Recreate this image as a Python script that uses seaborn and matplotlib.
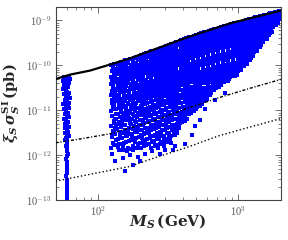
import math
import matplotlib
matplotlib.use("Agg")
import pandas as pd
import seaborn as sns
import matplotlib.pyplot as plt
from matplotlib.ticker import LogLocator, NullFormatter, FuncFormatter, FixedLocator

# upper limit (solid), projected limits (dash-dot, dotted); mass in GeV, sigma in pb
lux_mass = [50, 64, 88, 122, 169, 430, 867, 2000]
lux_sigma = [5.0e-11, 6.3e-11, 7.7e-11, 1.05e-10, 1.44e-10, 4.2e-10, 8.6e-10, 1.66e-9]
x1t_mass = [50, 75, 122, 235, 430, 736, 1262, 2000]
x1t_sigma = [1.91e-12, 2.33e-12, 3.03e-12, 5.5e-12, 1.11e-11, 1.95e-11, 3.24e-11, 4.9e-11]
lz_mass = [50, 169, 247, 430, 736, 2000]
lz_sigma = [2.68e-13, 5.7e-13, 8.6e-13, 1.51e-12, 2.78e-12, 6.6e-12]

x_ticks = [100, 1000]
y_ticks = [1e-13, 1e-12, 1e-11, 1e-10, 1e-9]

# scan points near the Higgs resonance
strip_pts = [
    (57.0, 5.5e-11), (59.5, 5.3e-11), (62.0, 5.6e-11), (63.0, 5.0e-11), (56.5, 4.6e-11), (58.5, 4.3e-11),
    (60.8, 4.4e-11), (62.6, 4.0e-11), (57.6, 3.7e-11), (59.8, 3.5e-11), (61.7, 3.3e-11), (56.8, 3.0e-11),
    (58.9, 2.8e-11), (60.5, 2.6e-11), (62.3, 2.5e-11), (57.3, 2.3e-11), (59.2, 2.1e-11), (61.2, 2.0e-11),
    (63.0, 1.9e-11), (58.0, 1.75e-11), (60.1, 1.6e-11), (61.9, 1.5e-11), (56.9, 1.4e-11), (59.0, 1.3e-11),
    (60.9, 1.2e-11), (62.5, 1.15e-11), (57.8, 1.05e-11), (59.7, 9.6e-12), (61.5, 9.0e-12), (58.3, 8.2e-12),
    (60.3, 7.6e-12), (62.1, 7.0e-12), (57.4, 6.5e-12), (59.4, 6.0e-12), (61.0, 5.5e-12), (58.7, 5.0e-12),
    (60.6, 4.6e-12), (62.2, 4.3e-12), (57.9, 4.0e-12), (59.9, 3.7e-12), (61.4, 3.4e-12), (58.6, 3.1e-12),
    (60.2, 2.9e-12), (61.8, 2.7e-12), (59.1, 2.5e-12), (60.7, 2.3e-12), (58.8, 2.15e-12), (60.4, 2.0e-12),
    (60.0, 1.8e-12), (59.5, 1.6e-12), (60.6, 1.45e-12), (59.8, 1.25e-12), (60.9, 1.1e-12), (60.2, 9.5e-13),
    (59.6, 8.3e-13), (60.7, 7.2e-13), (60.1, 6.2e-13), (59.9, 5.3e-13), (60.5, 4.6e-13), (60.0, 4.0e-13),
    (59.7, 3.4e-13), (60.4, 2.9e-13), (60.1, 2.5e-13), (59.8, 2.1e-13), (60.3, 1.8e-13), (60.0, 1.55e-13),
    (59.9, 1.3e-13), (60.2, 1.12e-13), (60.0, 1.02e-13),
]

# main scan region above ~122 GeV
main_pts = [
    (123, 1.0e-10), (128, 9.0e-11), (125, 7.6e-11), (130, 6.4e-11), (124, 5.5e-11), (127, 4.6e-11), (123, 3.9e-11),
    (129, 3.3e-11), (126, 2.7e-11), (124, 2.2e-11), (130, 1.9e-11), (125, 1.5e-11), (128, 1.2e-11), (123, 9.5e-12),
    (127, 7.4e-12), (130, 5.8e-12), (124, 4.6e-12), (128, 3.5e-12), (125, 2.6e-12), (129, 1.9e-12), (124, 1.5e-12),
    (134, 1.1e-10), (139, 9.6e-11), (136, 8.1e-11), (141, 6.9e-11), (133, 5.9e-11), (138, 5.0e-11), (135, 4.2e-11),
    (140, 3.5e-11), (137, 2.9e-11), (133, 2.4e-11), (139, 2.0e-11), (136, 1.6e-11), (141, 1.3e-11), (134, 1.05e-11),
    (138, 8.3e-12), (135, 6.5e-12), (140, 5.1e-12), (137, 3.9e-12), (133, 3.0e-12), (139, 2.3e-12), (136, 1.7e-12),
    (141, 1.35e-12),
    (145, 1.2e-10), (151, 1.04e-10), (147, 8.8e-11), (153, 7.5e-11), (146, 6.3e-11), (150, 5.3e-11), (148, 4.5e-11),
    (152, 3.7e-11), (145, 3.1e-11), (149, 2.6e-11), (154, 2.1e-11), (147, 1.75e-11), (151, 1.4e-11), (146, 1.15e-11),
    (150, 9.0e-12), (153, 7.0e-12), (148, 5.4e-12), (145, 4.2e-12), (152, 3.2e-12), (149, 2.4e-12), (147, 1.8e-12),
    (151, 1.3e-12),
    (157, 1.3e-10), (163, 1.12e-10), (159, 9.5e-11), (165, 8.0e-11), (158, 6.8e-11), (162, 5.7e-11), (160, 4.8e-11),
    (164, 4.0e-11), (157, 3.3e-11), (161, 2.75e-11), (166, 2.3e-11), (159, 1.85e-11), (163, 1.5e-11), (158, 1.2e-11),
    (162, 9.6e-12), (165, 7.6e-12), (160, 6.0e-12), (157, 4.7e-12), (164, 3.6e-12), (161, 2.7e-12), (159, 2.0e-12),
    (163, 1.5e-12),
    (171, 1.42e-10), (177, 1.2e-10), (173, 1.02e-10), (179, 8.6e-11), (172, 7.3e-11), (176, 6.1e-11), (174, 5.1e-11),
    (178, 4.3e-11), (171, 3.6e-11), (175, 3.0e-11), (180, 2.5e-11), (173, 2.0e-11), (177, 1.65e-11), (172, 1.3e-11),
    (176, 1.05e-11), (179, 8.3e-12), (174, 6.5e-12), (171, 5.1e-12), (178, 3.9e-12), (175, 3.0e-12), (173, 2.2e-12),
    (177, 1.6e-12),
    (186, 1.55e-10), (192, 1.32e-10), (188, 1.12e-10), (194, 9.4e-11), (187, 8.0e-11), (191, 6.7e-11), (189, 5.6e-11),
    (193, 4.7e-11), (186, 3.9e-11), (190, 3.2e-11), (195, 2.7e-11), (188, 2.2e-11), (192, 1.8e-11), (187, 1.45e-11),
    (191, 1.15e-11), (194, 9.0e-12), (189, 7.1e-12), (186, 5.5e-12), (193, 4.3e-12), (190, 3.3e-12), (188, 2.5e-12),
    (192, 1.8e-12),
    (202, 1.7e-10), (208, 1.45e-10), (204, 1.23e-10), (210, 1.03e-10), (203, 8.7e-11), (207, 7.3e-11), (205, 6.1e-11),
    (209, 5.1e-11), (202, 4.3e-11), (206, 3.6e-11), (211, 3.0e-11), (204, 2.4e-11), (208, 2.0e-11), (203, 1.6e-11),
    (207, 1.3e-11), (210, 1.0e-11), (205, 8.0e-12), (202, 6.2e-12), (209, 4.8e-12), (206, 3.7e-12), (204, 2.8e-12),
    (208, 2.0e-12), (203, 1.45e-12),
    (219, 1.86e-10), (225, 1.58e-10), (221, 1.34e-10), (227, 1.13e-10), (220, 9.5e-11), (224, 8.0e-11), (222, 6.7e-11),
    (226, 5.6e-11), (219, 4.7e-11), (223, 3.9e-11), (228, 3.2e-11), (221, 2.7e-11), (225, 2.2e-11), (220, 1.8e-11),
    (224, 1.45e-11), (227, 1.15e-11), (222, 9.0e-12), (219, 7.0e-12), (226, 5.4e-12), (223, 4.1e-12), (221, 3.1e-12),
    (225, 2.3e-12), (220, 1.7e-12),
    (238, 2.05e-10), (245, 1.75e-10), (241, 1.48e-10), (247, 1.25e-10), (239, 1.05e-10), (244, 8.8e-11), (242, 7.4e-11),
    (246, 6.2e-11), (238, 5.2e-11), (243, 4.3e-11), (248, 3.6e-11), (240, 3.0e-11), (245, 2.45e-11), (239, 2.0e-11),
    (244, 1.6e-11), (247, 1.3e-11), (241, 1.0e-11), (238, 8.0e-12), (246, 6.2e-12), (243, 4.7e-12), (240, 3.6e-12),
    (245, 2.7e-12), (242, 2.0e-12), (239, 1.5e-12),
    (258, 2.25e-10), (265, 1.92e-10), (261, 1.63e-10), (267, 1.38e-10), (259, 1.16e-10), (264, 9.8e-11), (262, 8.2e-11),
    (266, 6.9e-11), (258, 5.8e-11), (263, 4.8e-11), (268, 4.0e-11), (260, 3.3e-11), (265, 2.7e-11), (259, 2.2e-11),
    (264, 1.8e-11), (267, 1.45e-11), (261, 1.15e-11), (258, 9.0e-12), (266, 7.0e-12), (263, 5.4e-12), (260, 4.1e-12),
    (265, 3.1e-12), (262, 2.3e-12), (259, 1.7e-12),
    (280, 2.45e-10), (288, 2.1e-10), (283, 1.78e-10), (291, 1.5e-10), (282, 1.27e-10), (287, 1.07e-10), (285, 9.0e-11),
    (290, 7.6e-11), (281, 6.4e-11), (286, 5.3e-11), (292, 4.4e-11), (283, 3.6e-11), (288, 3.0e-11), (282, 2.45e-11),
    (287, 2.0e-11), (290, 1.6e-11), (284, 1.3e-11), (281, 1.0e-11), (289, 7.9e-12), (286, 6.1e-12), (283, 4.7e-12),
    (288, 3.6e-12), (285, 2.7e-12), (282, 2.0e-12),
    (304, 2.7e-10), (313, 2.3e-10), (307, 1.95e-10), (315, 1.65e-10), (306, 1.4e-10), (311, 1.18e-10), (309, 9.9e-11),
    (314, 8.3e-11), (305, 7.0e-11), (310, 5.8e-11), (316, 4.8e-11), (307, 4.0e-11), (312, 3.3e-11), (306, 2.7e-11),
    (311, 2.2e-11), (314, 1.8e-11), (308, 1.45e-11), (305, 1.15e-11), (313, 9.0e-12), (310, 7.0e-12), (307, 5.4e-12),
    (312, 4.1e-12), (309, 3.1e-12), (306, 2.3e-12),
    (330, 3.0e-10), (340, 2.55e-10), (334, 2.15e-10), (343, 1.82e-10), (332, 1.54e-10), (338, 1.3e-10), (336, 1.1e-10),
    (341, 9.2e-11), (331, 7.7e-11), (337, 6.4e-11), (344, 5.3e-11), (333, 4.4e-11), (339, 3.6e-11), (332, 3.0e-11),
    (338, 2.45e-11), (342, 2.0e-11), (335, 1.6e-11), (331, 1.3e-11), (340, 1.0e-11), (337, 7.9e-12), (334, 6.1e-12),
    (339, 4.7e-12), (336, 3.6e-12), (333, 2.7e-12),
    (358, 3.3e-10), (368, 2.8e-10), (362, 2.37e-10), (371, 2.0e-10), (360, 1.7e-10), (366, 1.43e-10), (364, 1.2e-10),
    (369, 1.0e-10), (359, 8.4e-11), (365, 7.0e-11), (372, 5.8e-11), (361, 4.8e-11), (367, 4.0e-11), (360, 3.3e-11),
    (366, 2.7e-11), (370, 2.2e-11), (363, 1.75e-11), (359, 1.4e-11), (368, 1.1e-11), (365, 8.6e-12), (362, 6.6e-12),
    (367, 5.0e-12), (364, 3.8e-12),
    (389, 3.65e-10), (400, 3.1e-10), (393, 2.6e-10), (403, 2.2e-10), (391, 1.86e-10), (398, 1.57e-10), (396, 1.32e-10),
    (401, 1.1e-10), (390, 9.2e-11), (397, 7.7e-11), (404, 6.4e-11), (392, 5.3e-11), (399, 4.4e-11), (391, 3.6e-11),
    (398, 2.9e-11), (402, 2.35e-11), (394, 1.9e-11), (390, 1.5e-11), (400, 1.2e-11), (397, 9.3e-12), (393, 7.2e-12),
    (399, 5.5e-12),
    (421, 4.05e-10), (433, 3.4e-10), (425, 2.85e-10), (437, 2.4e-10), (423, 2.03e-10), (431, 1.7e-10), (428, 1.43e-10),
    (434, 1.2e-10), (422, 1.0e-10), (430, 8.3e-11), (438, 6.9e-11), (424, 5.7e-11), (432, 4.7e-11), (423, 3.9e-11),
    (431, 3.2e-11), (436, 2.6e-11), (426, 2.1e-11), (422, 1.7e-11), (433, 1.35e-11), (429, 1.05e-11), (425, 8.2e-12),
    (432, 6.5e-12),
    (457, 4.4e-10), (470, 3.7e-10), (462, 3.1e-10), (474, 2.6e-10), (459, 2.2e-10), (468, 1.85e-10), (465, 1.55e-10),
    (472, 1.3e-10), (458, 1.08e-10), (467, 9.0e-11), (476, 7.5e-11), (461, 6.2e-11), (469, 5.1e-11), (459, 4.2e-11),
    (468, 3.4e-11), (473, 2.8e-11), (463, 2.25e-11), (458, 1.8e-11), (471, 1.45e-11), (466, 1.15e-11), (462, 9.0e-12),
    (495, 4.8e-10), (510, 4.05e-10), (500, 3.4e-10), (514, 2.85e-10), (497, 2.4e-10), (507, 2.0e-10), (503, 1.68e-10),
    (512, 1.4e-10), (496, 1.17e-10), (505, 9.7e-11), (516, 8.1e-11), (499, 6.7e-11), (509, 5.5e-11), (497, 4.5e-11),
    (507, 3.7e-11), (513, 3.0e-11), (502, 2.45e-11), (496, 2.0e-11), (511, 1.6e-11), (505, 1.3e-11), (500, 1.08e-11),
    (537, 5.2e-10), (553, 4.4e-10), (542, 3.7e-10), (558, 3.1e-10), (539, 2.6e-10), (550, 2.17e-10), (546, 1.82e-10),
    (555, 1.52e-10), (538, 1.27e-10), (548, 1.05e-10), (560, 8.8e-11), (541, 7.3e-11), (552, 6.0e-11), (540, 4.9e-11),
    (550, 4.0e-11), (557, 3.2e-11), (545, 2.6e-11), (538, 2.1e-11), (554, 1.7e-11), (548, 1.4e-11),
    (583, 5.65e-10), (600, 4.8e-10), (589, 4.05e-10), (606, 3.4e-10), (585, 2.85e-10), (597, 2.4e-10), (593, 2.0e-10),
    (603, 1.67e-10), (584, 1.4e-10), (595, 1.16e-10), (608, 9.6e-11), (588, 7.9e-11), (599, 6.5e-11), (586, 5.3e-11),
    (597, 4.3e-11), (605, 3.5e-11), (591, 2.8e-11), (584, 2.25e-11), (602, 1.8e-11),
    (633, 6.1e-10), (651, 5.2e-10), (639, 4.4e-10), (658, 3.7e-10), (635, 3.1e-10), (648, 2.6e-10), (644, 2.17e-10),
    (655, 1.8e-10), (634, 1.5e-10), (646, 1.25e-10), (660, 1.03e-10), (638, 8.5e-11), (650, 7.0e-11), (636, 5.7e-11),
    (648, 4.6e-11), (657, 3.7e-11), (642, 3.0e-11), (635, 2.4e-11),
    (687, 6.6e-10), (706, 5.6e-10), (693, 4.75e-10), (714, 4.0e-10), (689, 3.35e-10), (703, 2.8e-10), (698, 2.35e-10),
    (710, 1.95e-10), (688, 1.62e-10), (701, 1.35e-10), (716, 1.12e-10), (692, 9.2e-11), (705, 7.6e-11), (690, 6.2e-11),
    (703, 5.0e-11), (712, 4.0e-11), (696, 3.2e-11),
    (745, 7.1e-10), (766, 6.0e-10), (751, 5.1e-10), (774, 4.3e-10), (747, 3.6e-10), (762, 3.0e-10), (757, 2.5e-10),
    (770, 2.1e-10), (746, 1.75e-10), (760, 1.45e-10), (776, 1.2e-10), (750, 9.9e-11), (764, 8.1e-11), (748, 6.6e-11),
    (762, 5.4e-11), (772, 4.4e-11), (755, 3.6e-11),
    (809, 7.7e-10), (832, 6.5e-10), (815, 5.5e-10), (840, 4.6e-10), (811, 3.85e-10), (827, 3.2e-10), (822, 2.65e-10),
    (836, 2.2e-10), (810, 1.83e-10), (825, 1.52e-10), (842, 1.25e-10), (814, 1.03e-10), (830, 8.4e-11), (812, 6.8e-11),
    (827, 5.5e-11), (838, 4.5e-11),
    (878, 8.3e-10), (902, 7.0e-10), (884, 5.9e-10), (911, 4.9e-10), (880, 4.1e-10), (897, 3.4e-10), (891, 2.85e-10),
    (907, 2.35e-10), (879, 1.95e-10), (895, 1.6e-10), (913, 1.32e-10), (883, 1.08e-10), (900, 8.8e-11), (881, 7.1e-11),
    (897, 5.8e-11),
    (952, 8.8e-10), (979, 7.4e-10), (959, 6.2e-10), (988, 5.2e-10), (955, 4.35e-10), (973, 3.6e-10), (967, 3.0e-10),
    (984, 2.5e-10), (953, 2.05e-10), (971, 1.7e-10), (990, 1.4e-10), (958, 1.15e-10), (976, 9.3e-11), (955, 7.6e-11),
    (973, 6.2e-11),
    (1034, 9.5e-10), (1062, 8.0e-10), (1041, 6.7e-10), (1072, 5.6e-10), (1036, 4.7e-10), (1056, 3.9e-10),
    (1050, 3.25e-10), (1068, 2.7e-10), (1035, 2.2e-10), (1054, 1.82e-10), (1075, 1.5e-10), (1040, 1.22e-10),
    (1059, 9.9e-11), (1037, 8.0e-11),
    (1122, 1.02e-9), (1152, 8.6e-10), (1130, 7.2e-10), (1163, 6.0e-10), (1124, 5.0e-10), (1146, 4.15e-10),
    (1139, 3.45e-10), (1159, 2.85e-10), (1123, 2.35e-10), (1143, 1.93e-10), (1166, 1.58e-10), (1128, 1.3e-10),
    (1149, 1.07e-10),
    (1217, 1.1e-9), (1250, 9.2e-10), (1226, 7.7e-10), (1262, 6.4e-10), (1220, 5.3e-10), (1244, 4.4e-10),
    (1236, 3.65e-10), (1258, 3.0e-10), (1219, 2.45e-10), (1241, 2.0e-10), (1265, 1.65e-10), (1224, 1.5e-10),
    (1321, 1.17e-9), (1356, 9.8e-10), (1330, 8.2e-10), (1369, 6.8e-10), (1324, 5.6e-10), (1350, 4.6e-10),
    (1341, 3.8e-10), (1365, 3.1e-10), (1322, 2.55e-10), (1347, 2.05e-10),
    (1433, 1.25e-9), (1471, 1.05e-9), (1443, 8.7e-10), (1485, 7.2e-10), (1436, 6.0e-10), (1464, 4.9e-10),
    (1455, 4.0e-10), (1480, 3.3e-10), (1438, 2.8e-10),
    (1555, 1.34e-9), (1597, 1.12e-9), (1566, 9.3e-10), (1611, 7.7e-10), (1559, 6.3e-10), (1589, 5.2e-10),
    (1579, 4.3e-10), (1606, 3.9e-10),
    (1688, 1.44e-9), (1733, 1.2e-9), (1700, 9.9e-10), (1748, 8.1e-10), (1692, 6.7e-10), (1725, 5.5e-10),
    (1830, 1.54e-9), (1880, 1.28e-9), (1845, 1.06e-9), (1895, 8.8e-10), (1838, 7.8e-10),
    (1940, 1.62e-9), (1975, 1.35e-9), (1990, 1.1e-9), (1955, 1.2e-9),
    # sparse tail under the dense band
    (156, 4.6e-13), (178, 6.0e-13), (151, 8.6e-13), (200, 7.7e-13), (277, 1.05e-12), (342, 1.3e-12),
    (416, 1.8e-12), (353, 1.6e-12), (133, 7.7e-13), (169, 1.0e-12), (216, 1.05e-12), (490, 4.6e-12),
    (577, 1.1e-11), (679, 1.67e-11), (799, 2.5e-11), (126, 1.1e-12), (192, 9.0e-13), (300, 1.3e-12),
    (467, 2.8e-12), (531, 6.0e-12),
]

# second pass of points sitting between the columns above
main_pts_b = [
    (131, 1.08e-10), (129, 9.5e-11), (134, 8.3e-11), (132, 7.0e-11), (130, 6.0e-11), (133, 5.0e-11), (131, 4.2e-11),
    (129, 3.6e-11), (134, 3.0e-11), (132, 2.45e-11), (130, 2.0e-11), (133, 1.65e-11), (131, 1.35e-11), (129, 1.08e-11),
    (134, 8.5e-12), (132, 6.6e-12), (130, 5.2e-12), (133, 4.0e-12), (131, 3.1e-12), (134, 2.2e-12), (130, 1.7e-12),
    (143, 1.16e-10), (141, 1.02e-10), (146, 8.9e-11), (144, 7.6e-11), (142, 6.5e-11), (145, 5.4e-11), (143, 4.6e-11),
    (141, 3.9e-11), (146, 3.2e-11), (144, 2.65e-11), (142, 2.2e-11), (145, 1.8e-11), (143, 1.45e-11), (141, 1.15e-11),
    (146, 9.2e-12), (144, 7.2e-12), (142, 5.6e-12), (145, 4.4e-12), (143, 3.3e-12), (146, 2.4e-12), (142, 1.8e-12),
    (155, 1.26e-10), (153, 1.1e-10), (158, 9.6e-11), (156, 8.2e-11), (154, 7.0e-11), (157, 5.9e-11), (155, 5.0e-11),
    (153, 4.2e-11), (158, 3.5e-11), (156, 2.9e-11), (154, 2.4e-11), (157, 1.95e-11), (155, 1.6e-11), (153, 1.27e-11),
    (158, 1.0e-11), (156, 7.9e-12), (154, 6.2e-12), (157, 4.8e-12), (155, 3.7e-12), (158, 2.7e-12), (154, 1.9e-12),
    (156, 1.35e-12),
    (168, 1.37e-10), (165, 1.19e-10), (171, 1.03e-10), (169, 8.8e-11), (166, 7.5e-11), (170, 6.3e-11), (167, 5.3e-11),
    (165, 4.5e-11), (171, 3.8e-11), (169, 3.1e-11), (166, 2.6e-11), (170, 2.1e-11), (168, 1.7e-11), (165, 1.4e-11),
    (171, 1.1e-11), (169, 8.7e-12), (166, 6.8e-12), (170, 5.3e-12), (167, 4.1e-12), (171, 3.0e-12), (166, 2.1e-12),
    (169, 1.4e-12),
    (182, 1.5e-10), (179, 1.3e-10), (185, 1.12e-10), (183, 9.5e-11), (180, 8.1e-11), (184, 6.8e-11), (181, 5.8e-11),
    (179, 4.9e-11), (185, 4.1e-11), (183, 3.4e-11), (180, 2.8e-11), (184, 2.3e-11), (182, 1.85e-11), (179, 1.5e-11),
    (185, 1.2e-11), (183, 9.5e-12), (180, 7.4e-12), (184, 5.8e-12), (181, 4.4e-12), (185, 3.3e-12), (180, 2.3e-12),
    (183, 1.5e-12),
    (198, 1.62e-10), (195, 1.4e-10), (201, 1.2e-10), (199, 1.02e-10), (196, 8.7e-11), (200, 7.3e-11), (197, 6.2e-11),
    (195, 5.2e-11), (201, 4.4e-11), (199, 3.6e-11), (196, 3.0e-11), (200, 2.45e-11), (198, 2.0e-11), (195, 1.6e-11),
    (201, 1.27e-11), (199, 1.0e-11), (196, 7.9e-12), (200, 6.2e-12), (197, 4.8e-12), (201, 3.6e-12), (196, 2.6e-12),
    (199, 1.9e-12),
    (214, 1.77e-10), (211, 1.52e-10), (218, 1.3e-10), (215, 1.1e-10), (212, 9.4e-11), (217, 7.9e-11), (213, 6.7e-11),
    (211, 5.6e-11), (218, 4.7e-11), (215, 3.9e-11), (212, 3.2e-11), (217, 2.65e-11), (214, 2.15e-11), (211, 1.75e-11),
    (218, 1.4e-11), (215, 1.1e-11), (212, 8.7e-12), (217, 6.8e-12), (213, 5.3e-12), (218, 4.0e-12), (212, 3.0e-12),
    (215, 2.2e-12), (213, 1.6e-12),
    (233, 1.95e-10), (230, 1.66e-10), (237, 1.42e-10), (234, 1.2e-10), (231, 1.02e-10), (236, 8.6e-11), (232, 7.2e-11),
    (230, 6.0e-11), (237, 5.1e-11), (234, 4.2e-11), (231, 3.5e-11), (236, 2.9e-11), (233, 2.35e-11), (230, 1.9e-11),
    (237, 1.52e-11), (234, 1.2e-11), (231, 9.5e-12), (236, 7.4e-12), (232, 5.8e-12), (237, 4.4e-12), (231, 3.3e-12),
    (234, 2.4e-12), (232, 1.75e-12),
    (253, 2.15e-10), (249, 1.84e-10), (257, 1.57e-10), (254, 1.33e-10), (250, 1.12e-10), (256, 9.4e-11), (252, 7.9e-11),
    (249, 6.6e-11), (257, 5.5e-11), (254, 4.6e-11), (250, 3.8e-11), (256, 3.1e-11), (253, 2.55e-11), (249, 2.1e-11),
    (257, 1.7e-11), (254, 1.35e-11), (250, 1.07e-11), (256, 8.4e-12), (252, 6.6e-12), (257, 5.0e-12), (250, 3.8e-12),
    (254, 2.9e-12), (252, 2.1e-12), (255, 1.6e-12),
    (274, 2.35e-10), (270, 2.0e-10), (278, 1.7e-10), (275, 1.45e-10), (271, 1.22e-10), (277, 1.03e-10), (273, 8.6e-11),
    (270, 7.2e-11), (278, 6.0e-11), (275, 5.0e-11), (271, 4.2e-11), (277, 3.4e-11), (274, 2.8e-11), (270, 2.3e-11),
    (278, 1.85e-11), (275, 1.5e-11), (271, 1.2e-11), (277, 9.4e-12), (273, 7.3e-12), (278, 5.6e-12), (271, 4.3e-12),
    (275, 3.3e-12), (273, 2.4e-12), (276, 1.8e-12),
    (298, 2.58e-10), (294, 2.2e-10), (302, 1.86e-10), (299, 1.58e-10), (295, 1.33e-10), (301, 1.12e-10), (297, 9.4e-11),
    (294, 7.9e-11), (302, 6.6e-11), (299, 5.5e-11), (295, 4.6e-11), (301, 3.8e-11), (298, 3.1e-11), (294, 2.5e-11),
    (302, 2.05e-11), (299, 1.65e-11), (295, 1.3e-11), (301, 1.03e-11), (297, 8.0e-12), (302, 6.2e-12), (295, 4.8e-12),
    (299, 3.7e-12), (297, 2.7e-12), (300, 2.0e-12),
    (323, 2.85e-10), (318, 2.42e-10), (328, 2.05e-10), (324, 1.74e-10), (319, 1.47e-10), (327, 1.24e-10), (322, 1.04e-10),
    (318, 8.7e-11), (328, 7.3e-11), (324, 6.1e-11), (319, 5.1e-11), (327, 4.2e-11), (323, 3.5e-11), (318, 2.85e-11),
    (328, 2.3e-11), (324, 1.85e-11), (319, 1.5e-11), (327, 1.18e-11), (322, 9.2e-12), (328, 7.1e-12), (320, 5.5e-12),
    (325, 4.2e-12), (322, 3.1e-12), (326, 2.3e-12),
    (351, 3.15e-10), (346, 2.68e-10), (356, 2.27e-10), (352, 1.92e-10), (347, 1.62e-10), (355, 1.37e-10), (350, 1.15e-10),
    (346, 9.6e-11), (356, 8.0e-11), (352, 6.7e-11), (347, 5.6e-11), (355, 4.6e-11), (351, 3.8e-11), (346, 3.15e-11),
    (356, 2.55e-11), (352, 2.1e-11), (347, 1.7e-11), (355, 1.35e-11), (350, 1.05e-11), (356, 8.2e-12), (348, 6.3e-12),
    (353, 4.8e-12), (350, 3.6e-12), (354, 2.8e-12),
    (381, 3.48e-10), (375, 2.95e-10), (387, 2.5e-10), (382, 2.1e-10), (376, 1.78e-10), (386, 1.5e-10), (380, 1.26e-10),
    (375, 1.05e-10), (387, 8.8e-11), (382, 7.3e-11), (376, 6.1e-11), (386, 5.0e-11), (381, 4.15e-11), (375, 3.4e-11),
    (387, 2.8e-11), (382, 2.25e-11), (376, 1.8e-11), (386, 1.45e-11), (380, 1.15e-11), (387, 9.0e-12), (378, 7.0e-12),
    (384, 5.3e-12), (380, 4.1e-12),
    (413, 3.85e-10), (407, 3.25e-10), (419, 2.75e-10), (414, 2.3e-10), (408, 1.95e-10), (418, 1.64e-10), (412, 1.38e-10),
    (407, 1.15e-10), (419, 9.6e-11), (414, 8.0e-11), (408, 6.6e-11), (418, 5.5e-11), (413, 4.5e-11), (407, 3.7e-11),
    (419, 3.05e-11), (414, 2.45e-11), (408, 1.95e-11), (418, 1.55e-11), (412, 1.22e-11), (419, 9.6e-12), (410, 7.5e-12),
    (416, 5.8e-12),
    (448, 4.2e-10), (441, 3.55e-10), (455, 3.0e-10), (449, 2.5e-10), (442, 2.1e-10), (454, 1.78e-10), (447, 1.5e-10),
    (441, 1.25e-10), (455, 1.04e-10), (449, 8.6e-11), (442, 7.2e-11), (454, 5.9e-11), (448, 4.9e-11), (441, 4.0e-11),
    (455, 3.3e-11), (449, 2.65e-11), (442, 2.1e-11), (454, 1.7e-11), (447, 1.35e-11), (455, 1.05e-11), (444, 8.2e-12),
    (486, 4.6e-10), (478, 3.9e-10), (494, 3.25e-10), (487, 2.75e-10), (479, 2.3e-10), (493, 1.93e-10), (485, 1.62e-10),
    (478, 1.35e-10), (494, 1.12e-10), (487, 9.3e-11), (479, 7.7e-11), (493, 6.4e-11), (486, 5.3e-11), (478, 4.3e-11),
    (494, 3.5e-11), (487, 2.85e-11), (479, 2.3e-11), (493, 1.85e-11), (485, 1.45e-11), (494, 1.15e-11), (482, 9.6e-12),
    (527, 5.0e-10), (518, 4.25e-10), (536, 3.55e-10), (528, 3.0e-10), (519, 2.5e-10), (535, 2.1e-10), (526, 1.75e-10),
    (518, 1.46e-10), (536, 1.2e-10), (528, 1.0e-10), (519, 8.3e-11), (535, 6.8e-11), (527, 5.6e-11), (518, 4.6e-11),
    (536, 3.7e-11), (528, 3.0e-11), (519, 2.4e-11), (535, 1.95e-11), (526, 1.55e-11), (533, 1.25e-11),
    (572, 5.45e-10), (562, 4.6e-10), (582, 3.85e-10), (573, 3.25e-10), (563, 2.7e-10), (580, 2.25e-10), (570, 1.9e-10),
    (562, 1.58e-10), (582, 1.3e-10), (573, 1.08e-10), (563, 8.9e-11), (580, 7.3e-11), (571, 6.0e-11), (562, 4.9e-11),
    (582, 4.0e-11), (573, 3.2e-11), (563, 2.6e-11), (580, 2.1e-11), (570, 1.65e-11),
    (621, 5.9e-10), (610, 5.0e-10), (631, 4.2e-10), (622, 3.5e-10), (611, 2.95e-10), (630, 2.45e-10), (619, 2.05e-10),
    (610, 1.7e-10), (631, 1.4e-10), (622, 1.16e-10), (611, 9.6e-11), (630, 7.9e-11), (620, 6.4e-11), (610, 5.2e-11),
    (631, 4.2e-11), (622, 3.4e-11), (612, 2.7e-11), (628, 2.15e-11),
    (674, 6.4e-10), (662, 5.4e-10), (685, 4.55e-10), (675, 3.8e-10), (663, 3.2e-10), (684, 2.65e-10), (672, 2.2e-10),
    (662, 1.82e-10), (685, 1.5e-10), (675, 1.24e-10), (663, 1.02e-10), (684, 8.4e-11), (673, 6.9e-11), (662, 5.6e-11),
    (685, 4.5e-11), (675, 3.6e-11), (665, 2.9e-11),
    (731, 6.9e-10), (718, 5.8e-10), (743, 4.9e-10), (732, 4.1e-10), (719, 3.45e-10), (742, 2.9e-10), (729, 2.4e-10),
    (718, 2.0e-10), (743, 1.65e-10), (732, 1.36e-10), (719, 1.12e-10), (742, 9.2e-11), (730, 7.5e-11), (718, 6.1e-11),
    (743, 4.9e-11), (732, 4.0e-11), (722, 3.3e-11),
    (793, 7.45e-10), (779, 6.3e-10), (806, 5.3e-10), (794, 4.45e-10), (780, 3.7e-10), (805, 3.1e-10), (791, 2.6e-10),
    (779, 2.15e-10), (806, 1.78e-10), (794, 1.47e-10), (780, 1.2e-10), (805, 9.9e-11), (792, 8.1e-11), (779, 6.6e-11),
    (806, 5.3e-11), (794, 4.3e-11),
    (860, 8.0e-10), (845, 6.75e-10), (874, 5.7e-10), (861, 4.75e-10), (846, 4.0e-10), (873, 3.3e-10), (858, 2.75e-10),
    (845, 2.3e-10), (874, 1.9e-10), (861, 1.56e-10), (846, 1.28e-10), (873, 1.05e-10), (859, 8.6e-11), (845, 7.0e-11),
    (872, 5.6e-11), (856, 4.9e-11),
    (933, 8.6e-10), (917, 7.2e-10), (948, 6.05e-10), (934, 5.05e-10), (918, 4.2e-10), (947, 3.5e-10), (931, 2.9e-10),
    (917, 2.42e-10), (948, 2.0e-10), (934, 1.65e-10), (918, 1.35e-10), (947, 1.1e-10), (932, 9.0e-11), (917, 7.3e-11),
    (945, 5.9e-11),
    (1013, 9.2e-10), (995, 7.75e-10), (1029, 6.5e-10), (1014, 5.4e-10), (996, 4.5e-10), (1028, 3.75e-10),
    (1011, 3.1e-10), (995, 2.55e-10), (1029, 2.1e-10), (1014, 1.73e-10), (996, 1.42e-10), (1028, 1.16e-10),
    (1010, 9.4e-11), (998, 7.6e-11),
    (1099, 9.9e-10), (1080, 8.3e-10), (1117, 6.95e-10), (1100, 5.8e-10), (1081, 4.8e-10), (1116, 4.0e-10),
    (1097, 3.3e-10), (1080, 2.7e-10), (1117, 2.2e-10), (1100, 1.8e-10), (1081, 1.47e-10), (1114, 1.2e-10),
    (1095, 9.7e-11),
    (1193, 1.06e-9), (1172, 8.9e-10), (1212, 7.45e-10), (1194, 6.2e-10), (1173, 5.15e-10), (1211, 4.25e-10),
    (1191, 3.5e-10), (1172, 2.9e-10), (1212, 2.35e-10), (1194, 1.9e-10), (1175, 1.55e-10), (1205, 1.3e-10),
    (1294, 1.14e-9), (1271, 9.5e-10), (1315, 7.9e-10), (1295, 6.6e-10), (1272, 5.4e-10), (1314, 4.5e-10),
    (1292, 3.7e-10), (1271, 3.0e-10), (1315, 2.45e-10), (1295, 2.0e-10), (1278, 1.75e-10),
    (1404, 1.21e-9), (1379, 1.01e-9), (1427, 8.4e-10), (1405, 6.9e-10), (1380, 5.7e-10), (1426, 4.7e-10),
    (1402, 3.85e-10), (1380, 3.15e-10), (1420, 2.6e-10),
    (1523, 1.3e-9), (1496, 1.08e-9), (1549, 8.9e-10), (1524, 7.3e-10), (1497, 6.0e-10), (1548, 4.9e-10),
    (1520, 4.0e-10), (1500, 3.4e-10),
    (1653, 1.39e-9), (1623, 1.15e-9), (1682, 9.5e-10), (1654, 7.8e-10), (1624, 6.4e-10), (1680, 5.3e-10),
    (1650, 4.7e-10),
    (1794, 1.49e-9), (1762, 1.23e-9), (1826, 1.02e-9), (1795, 8.4e-10), (1765, 7.0e-10),
    (1915, 1.58e-9), (1880, 1.4e-9), (1925, 1.15e-9), (1905, 9.6e-10),
]

# loose points along the lower edge and inside the band
main_pts_c = [
    (127, 2.9e-12), (135, 4.4e-12), (139, 1.55e-12), (148, 6.8e-12), (144, 2.9e-12), (152, 1.6e-12), (160, 3.3e-12),
    (166, 8.8e-12), (162, 1.25e-12), (174, 2.6e-12), (170, 5.8e-12), (185, 2.0e-12), (178, 1.3e-12), (189, 3.9e-12),
    (196, 1.45e-12), (205, 2.4e-12), (209, 5.9e-12), (201, 9.5e-12), (218, 1.9e-12), (223, 3.6e-12), (229, 7.9e-12),
    (235, 2.7e-12), (241, 1.25e-12), (248, 4.1e-12), (252, 9.9e-12), (262, 2.6e-12), (268, 1.45e-12), (273, 5.1e-12),
    (279, 3.0e-12), (285, 8.4e-12), (293, 2.4e-12), (296, 1.6e-12), (303, 4.4e-12), (310, 2.0e-12), (317, 6.7e-12),
    (320, 2.9e-12), (329, 1.85e-12), (335, 4.3e-12), (345, 3.2e-12), (349, 8.9e-12), (357, 4.3e-12), (363, 3.1e-12),
    (370, 6.2e-12), (377, 4.6e-12), (385, 7.9e-12), (392, 6.3e-12), (403, 8.3e-12), (409, 1.05e-11), (418, 7.1e-12),
    (427, 1.2e-11), (435, 8.9e-12), (445, 1.5e-11), (452, 1.0e-11), (460, 1.25e-11), (471, 1.0e-11), (480, 1.6e-11),
    (489, 1.25e-11), (498, 1.4e-11), (508, 1.2e-11), (517, 1.8e-11), (525, 1.45e-11), (534, 2.2e-11), (544, 1.55e-11),
    (556, 1.9e-11), (565, 2.35e-11), (576, 1.8e-11), (587, 2.6e-11), (598, 2.05e-11), (607, 3.0e-11), (618, 2.4e-11),
    (629, 3.2e-11), (640, 2.7e-11), (654, 3.3e-11), (668, 3.0e-11), (681, 3.9e-11), (694, 3.6e-11), (708, 4.5e-11),
    (724, 3.9e-11), (738, 5.3e-11), (753, 4.1e-11), (768, 5.0e-11), (784, 4.8e-11), (800, 6.1e-11), (818, 5.2e-11),
    (834, 6.4e-11), (852, 6.0e-11), (868, 7.7e-11), (889, 6.6e-11), (905, 8.0e-11), (925, 7.0e-11), (943, 8.4e-11),
    (963, 7.9e-11), (982, 1.0e-10), (1003, 8.8e-11), (1022, 1.05e-10), (1046, 1.0e-10), (1067, 1.3e-10),
    (1090, 1.15e-10), (1110, 1.38e-10), (1135, 1.25e-10), (1158, 1.45e-10), (1183, 1.45e-10), (1203, 1.7e-10),
    (1232, 1.7e-10), (1256, 2.2e-10), (1283, 2.15e-10), (1309, 2.3e-10), (1335, 2.3e-10), (1360, 2.7e-10),
    (1390, 2.75e-10), (1415, 3.4e-10), (1448, 3.2e-10), (1475, 3.7e-10), (1510, 3.8e-10), (1540, 4.4e-10),
    (1575, 5.0e-10), (1600, 5.8e-10), (1640, 5.5e-10), (1670, 6.2e-10), (1710, 6.5e-10), (1740, 7.3e-10),
    (1780, 8.0e-10), (1810, 9.2e-10), (1860, 9.6e-10), (1960, 1.3e-9), (1985, 1.5e-9),
    (126, 1.7e-11), (138, 3.3e-11), (150, 1.2e-11), (163, 2.1e-11), (176, 1.35e-11), (190, 2.5e-11), (207, 1.55e-11),
    (222, 2.9e-11), (240, 1.75e-11), (260, 3.5e-11), (282, 1.6e-11), (305, 3.1e-11), (330, 1.9e-11), (357, 3.7e-11),
    (388, 2.0e-11), (420, 4.1e-11), (455, 2.4e-11), (495, 5.0e-11), (535, 3.5e-11), (580, 6.8e-11), (625, 4.9e-11),
    (680, 9.0e-11), (735, 6.9e-11), (798, 1.3e-10), (865, 1.1e-10), (940, 1.9e-10), (1020, 1.6e-10), (1105, 2.7e-10),
    (1200, 2.2e-10), (1300, 3.4e-10),
]

sns.set_style("ticks")
plt.rcParams.update({
    "font.family": "serif",
    "font.serif": ["DejaVu Serif"],
    "mathtext.fontset": "cm",
    "xtick.direction": "in",
    "ytick.direction": "in",
    "xtick.top": True,
    "ytick.right": True,
    "axes.edgecolor": "#444444",
    "xtick.color": "#555555",
    "ytick.color": "#555555",
})

scan = pd.DataFrame(strip_pts + main_pts + main_pts_b + main_pts_c, columns=["mass", "sigma"])

fig = plt.figure(figsize=(2.88, 2.4), dpi=100)
ax = fig.add_axes([0.193, 0.165, 0.782, 0.806])

sns.scatterplot(data=scan, x="mass", y="sigma", ax=ax, color="#0000ff",
                s=5.5, marker="s", linewidth=0, zorder=2)
sns.lineplot(x=lux_mass, y=lux_sigma, ax=ax, color="black", lw=1.6, zorder=4)
sns.lineplot(x=x1t_mass, y=x1t_sigma, ax=ax, color="black", lw=1.0, zorder=3)
ax.lines[-1].set_dashes([2.2, 1.3, 0.8, 1.3])
sns.lineplot(x=lz_mass, y=lz_sigma, ax=ax, color="black", lw=1.0, zorder=3)
ax.lines[-1].set_linestyle(":")

ax.set_xscale("log")
ax.set_yscale("log")
ax.set_xlim(50, 2000)
ax.set_ylim(1e-13, 2e-9)
pow10 = FuncFormatter(lambda v, pos: r"$10^{%d}$" % round(math.log10(v)))
ax.xaxis.set_major_locator(FixedLocator(x_ticks))
ax.yaxis.set_major_locator(FixedLocator(y_ticks))
ax.xaxis.set_major_formatter(pow10)
ax.yaxis.set_major_formatter(pow10)
ax.xaxis.set_minor_locator(LogLocator(subs=range(2, 10)))
ax.yaxis.set_minor_locator(LogLocator(subs=range(2, 10), numticks=20))
ax.xaxis.set_minor_formatter(NullFormatter())
ax.yaxis.set_minor_formatter(NullFormatter())
ax.tick_params(which="major", length=4, width=0.6, labelsize=7.5, pad=3)
ax.tick_params(which="minor", length=2, width=0.5)
for s in ax.spines.values():
    s.set_linewidth(0.8)

ax.set_xlabel(r"$\mathbfit{M}_{\mathbfit{S}}\,\mathbf{(GeV)}$", fontsize=11,
              math_fontfamily="dejavuserif")
ax.set_ylabel(r"$\mathbfit{\xi}_{\mathbfit{S}}\,\mathbfit{\sigma}_{\mathbfit{S}}^{\mathbf{SI}}\,\mathbf{(pb)}$",
              fontsize=10.5, math_fontfamily="dejavuserif")
ax.xaxis.set_label_coords(0.5, -0.06)
ax.yaxis.set_label_coords(-0.15, 0.5)

fig.savefig("out.png", dpi=100)
